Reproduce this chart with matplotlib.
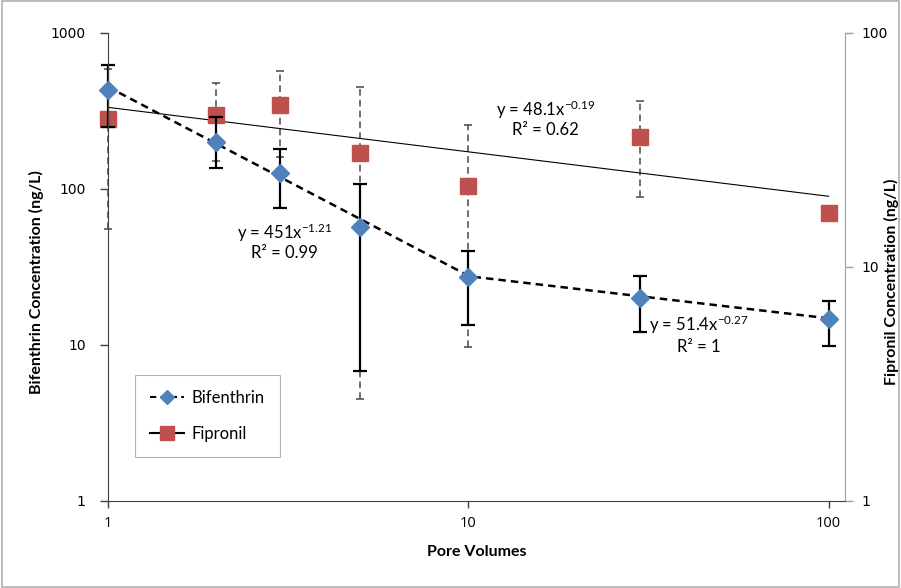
import matplotlib
matplotlib.use("Agg")
import matplotlib.pyplot as plt
import numpy as np
from matplotlib.lines import Line2D
from matplotlib.patches import Rectangle

plt.rcParams["mathtext.fontset"] = "custom"
plt.rcParams["mathtext.rm"] = "Lato"
plt.rcParams["mathtext.it"] = "Lato"

# pore volumes
pore_vol = [1, 2, 3, 5, 10, 30, 100]

# Bifenthrin (left axis, ng/L)
bif_conc = [430, 200, 127, 57, 27.3, 20, 14.7]
bif_low = [250, 136, 75.5, 6.8, 13.4, 12.1, 9.9]
bif_high = [620, 290, 180, 108, 40, 27.7, 19.1]

# Fipronil (right axis, ng/L)
fip_conc = [42.8, 44.6, 49.2, 30.7, 22.1, 35.9, 17.0]
fip_low = [14.6, 28.4, 29.5, 2.73, 4.55, 19.9, 17.0]
fip_high = [70.3, 61.2, 68.8, 58.8, 40.4, 51.2, 17.0]

# power fits y = a * x^b
bif_fit1 = (451, -1.21)   # 1..10
bif_fit2 = (51.4, -0.27)  # 10..100
fip_fit = (48.1, -0.19)

blue = "#4F81BD"
red = "#C0504D"

fig = plt.figure(figsize=(9.01, 5.88), dpi=100)
fig.patches.append(Rectangle((0.002, 0.002), 0.996, 0.996, transform=fig.transFigure,
                             fill=False, edgecolor="#b0b0b0", lw=1.2))
ax = fig.add_axes([0.1199, 0.148, 0.8179, 0.7959])
ax2 = ax.twinx()

ax.set_xscale("log")
ax.set_yscale("log")
ax2.set_yscale("log")
ax.set_xlim(1, 111)
ax.set_ylim(1, 1000)
ax2.set_ylim(1, 100)

# error bars
x = np.array(pore_vol, dtype=float)
by = np.array(bif_conc)
eb = ax.errorbar(x, by, yerr=[by - np.array(bif_low), np.array(bif_high) - by],
                 fmt="none", ecolor="black", elinewidth=1.6, capsize=5, capthick=1.6, zorder=2)
for c in eb[1] + tuple(eb[2]):
    c.set_clip_on(False)

fy = np.array(fip_conc)
eb2 = ax2.errorbar(x, fy, yerr=[fy - np.array(fip_low), np.array(fip_high) - fy],
                   fmt="none", ecolor="#555555", elinewidth=1.2, capsize=3, capthick=1.2, zorder=1)
eb2[2][0].set_linestyle((0, (4, 2.5)))
for c in eb2[1] + tuple(eb2[2]):
    c.set_clip_on(False)

# trend lines
xa = np.logspace(0, 1, 50)
xb = np.logspace(1, 2, 50)
xt = np.concatenate([xa, xb])
yt = np.concatenate([bif_fit1[0] * xa ** bif_fit1[1], bif_fit2[0] * xb ** bif_fit2[1]])
ax.plot(xt, yt, color="black", ls=(0, (3, 2)), lw=1.8, zorder=3)
xf = np.logspace(0, 2, 50)
ax2.plot(xf, fip_fit[0] * xf ** fip_fit[1], color="black", lw=0.8, zorder=2)

# markers
ax.plot(x, by, ls="none", marker="D", ms=9, color=blue, zorder=4, clip_on=False)
ax2.plot(x, fy, ls="none", marker="s", ms=12, color=red, zorder=3, clip_on=False)
ax.set_zorder(2)
ax2.set_zorder(1)
ax.patch.set_visible(False)

# axes styling
for a in (ax, ax2):
    a.spines["top"].set_visible(False)
ax.spines["right"].set_visible(False)
ax2.spines["left"].set_visible(False)
ax2.spines["bottom"].set_visible(False)
ax2.spines["right"].set_color("#a0a0a0")
ax.spines["left"].set_color("#404040")
ax.spines["bottom"].set_color("#404040")

ax.set_yticks([1, 10, 100, 1000])
ax.set_yticklabels(["1", "10", "100", "1000"])
ax2.set_yticks([1, 10, 100])
ax2.set_yticklabels(["1", "10", "100"])
ax.set_xticks([1, 10, 100])
ax.set_xticklabels(["1", "10", "100"])
ax.minorticks_off()
ax2.minorticks_off()
ax.tick_params(axis="y", length=6, width=1, color="#404040", labelsize=10, pad=10)
ax.tick_params(axis="x", length=5, width=1, color="#404040", labelsize=10.5, pad=6)
ax2.tick_params(axis="y", length=6, width=1, color="#a0a0a0", labelsize=10, pad=6)
for lab in ax.get_xticklabels():
    lab.set_family("Open Sans")

ax.set_xlabel("Pore Volumes", fontsize=11.5, fontweight="bold", family="Lato", labelpad=10)
fig.text(0.040, 0.52, "Bifenthrin Concentration (ng/L)", fontsize=11.5, fontweight="bold",
         family="Lato", rotation=90, ha="center", va="center")
fig.text(0.989, 0.52, "Fipronil Concentration (ng/L)", fontsize=11.5, fontweight="bold",
         family="Lato", rotation=90, ha="center", va="center")

# fit equations
fs = 12
kw = dict(fontsize=fs, family="Lato", ha="center", va="center")
ax.text(3.08, 52, "y = 451x$^{-1.21}$", **kw)
ax.text(3.08, 38.8, "R² = 0.99", **kw)
ax.text(16.4, 320, "y = 48.1x$^{-0.19}$", **kw)
ax.text(16.4, 239, "R² = 0.62", **kw)
ax.text(43.6, 13.4, "y = 51.4x$^{-0.27}$", **kw)
ax.text(43.6, 9.7, "R² = 1", **kw)

# legend
h1 = Line2D([], [], color="black", ls=(0, (3, 2)), lw=1.5, marker="D", ms=7, mfc=blue, mec=blue)
h2 = Line2D([], [], color="black", lw=1.5, marker="s", ms=10, mfc=red, mec=red)
leg = ax.legend([h1, h2], ["Bifenthrin", "Fipronil"], loc="upper left",
                bbox_to_anchor=(0.037, 0.269), borderaxespad=0, frameon=True, fancybox=False,
                edgecolor="#a0a0a0", handlelength=2.0, labelspacing=1.2,
                borderpad=0.9, handletextpad=0.5, prop={"family": "Lato", "size": 12})
leg.get_frame().set_linewidth(0.8)

fig.savefig("out.png", dpi=100)
